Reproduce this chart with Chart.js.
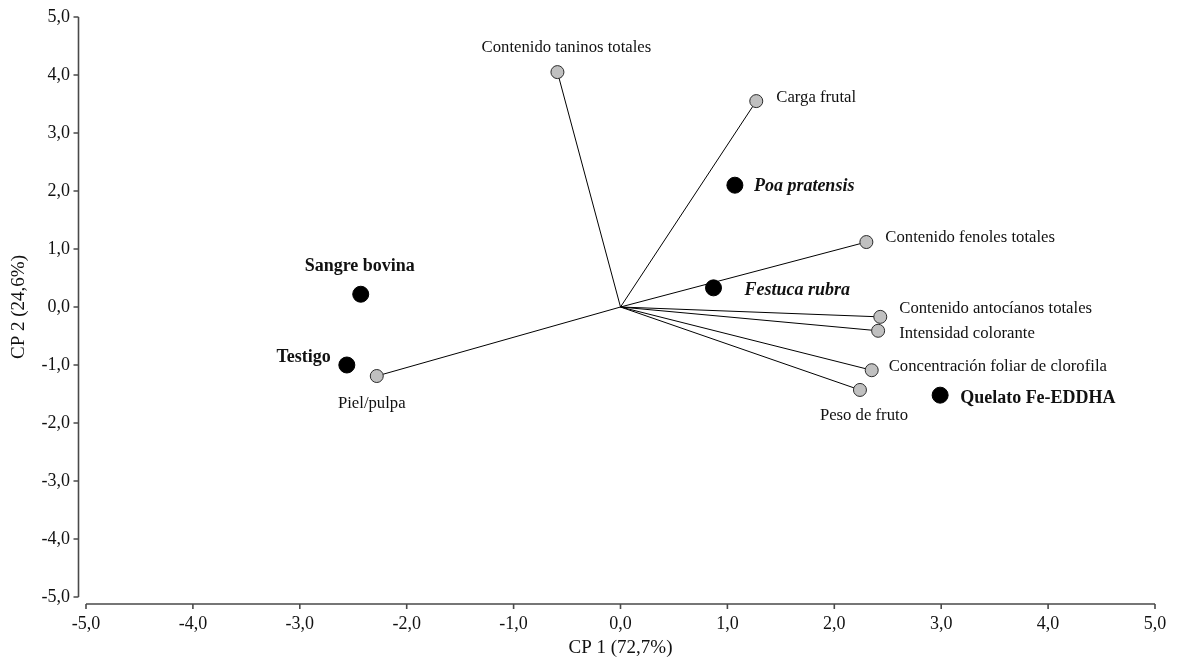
<!DOCTYPE html>
<html>
<head>
<meta charset="utf-8">
<script src="https://cdn.jsdelivr.net/npm/chart.js@4.4.1/dist/chart.umd.min.js"></script>
<style>
  html, body { margin: 0; padding: 0; background: #fff; }
</style>
</head>
<body>
<canvas id="biplot" width="1178" height="658"></canvas>
<script>
// Variables (vectors from the origin)
const varNames = ['Contenido taninos totales', 'Carga frutal', 'Contenido fenoles totales',
  'Contenido antocíanos totales', 'Intensidad colorante', 'Concentración foliar de clorofila',
  'Peso de fruto', 'Piel/pulpa'];
const varCP1 = [-0.59, 1.27, 2.30, 2.43, 2.41, 2.35, 2.24, -2.28];
const varCP2 = [4.05, 3.55, 1.12, -0.17, -0.41, -1.09, -1.43, -1.19];

// Treatments
const trtNames = ['Poa pratensis', 'Festuca rubra', 'Sangre bovina', 'Testigo', 'Quelato Fe-EDDHA'];
const trtCP1 = [1.07, 0.87, -2.43, -2.56, 2.99];
const trtCP2 = [2.10, 0.33, 0.22, -1.00, -1.52];

// Axis ticks
const tickValues = [-5, -4, -3, -2, -1, 0, 1, 2, 3, 4, 5];

// label placement (pixel offsets from the point, text alignment)
const varLabelPos = [
  [9, -24, 'center'], [20, -3, 'left'], [19, -4, 'left'], [19, -8, 'left'],
  [21, 3, 'left'], [17, -4, 'left'], [4, 26, 'center'], [-5, 28, 'center']
];
const trtLabelPos = [
  [19, 1, 'left', true], [31, 2, 'left', true], [-1, -28, 'center', false],
  [-16, -8, 'right', false], [20, 3, 'left', false]
];

const serif = "'Liberation Serif', 'Times New Roman', serif";
Chart.defaults.font.family = serif;

const fmt = v => Number(v).toFixed(1).replace('.', ',');

// keep the plot area fixed: no extra room for overhanging tick labels
function noScalePadding(s) {
  s.paddingTop = 0;
  s.paddingBottom = 0;
  s.paddingLeft = 0;
  s.paddingRight = 0;
}

// draws the detached axes and the point labels
const biplotDecor = {
  id: 'biplotDecor',
  afterDraw(chart) {
    const ctx = chart.ctx;
    const xs = chart.scales.x, ys = chart.scales.y;
    const area = chart.chartArea;
    ctx.save();
    ctx.strokeStyle = '#4a4a4a';
    ctx.lineWidth = 1.6;
    ctx.beginPath();
    const ax = area.left - 7.5;
    ctx.moveTo(ax, ys.getPixelForValue(5));
    ctx.lineTo(ax, ys.getPixelForValue(-5));
    tickValues.forEach(v => {
      const py = ys.getPixelForValue(v);
      ctx.moveTo(ax - 5, py);
      ctx.lineTo(ax, py);
    });
    const ay = area.bottom + 7;
    ctx.moveTo(xs.getPixelForValue(-5), ay);
    ctx.lineTo(xs.getPixelForValue(5), ay);
    tickValues.forEach(v => {
      const px = xs.getPixelForValue(v);
      ctx.moveTo(px, ay);
      ctx.lineTo(px, ay + 5);
    });
    ctx.stroke();

    ctx.fillStyle = '#111';
    ctx.textBaseline = 'middle';
    ctx.font = '16.7px ' + serif;
    varNames.forEach((name, i) => {
      const p = varLabelPos[i];
      ctx.textAlign = p[2];
      ctx.fillText(name, xs.getPixelForValue(varCP1[i]) + p[0], ys.getPixelForValue(varCP2[i]) + p[1]);
    });
    trtNames.forEach((name, i) => {
      const p = trtLabelPos[i];
      ctx.textAlign = p[2];
      ctx.font = (p[3] ? 'italic ' : '') + 'bold 18px ' + serif;
      ctx.fillText(name, xs.getPixelForValue(trtCP1[i]) + p[0], ys.getPixelForValue(trtCP2[i]) + p[1]);
    });
    ctx.restore();
  }
};

const vectorSets = varNames.map((n, i) => ({
  label: n,
  data: [{ x: 0, y: 0 }, { x: varCP1[i], y: varCP2[i] }],
  showLine: true,
  borderColor: '#000',
  borderWidth: 1,
  pointRadius: 0,
  order: 3
}));

const axisTicks = {
  callback: fmt,
  font: { size: 18 },
  color: '#111',
  padding: 16,
  autoSkip: false,
  maxRotation: 0
};

new Chart(document.getElementById('biplot'), {
  type: 'scatter',
  data: {
    datasets: [
      {
        label: 'Variables',
        data: varCP1.map((x, i) => ({ x: x, y: varCP2[i] })),
        pointRadius: 6.5,
        backgroundColor: '#c0c0c0',
        borderColor: '#2a2a2a',
        borderWidth: 1,
        order: 2
      },
      {
        label: 'Tratamientos',
        data: trtCP1.map((x, i) => ({ x: x, y: trtCP2[i] })),
        pointRadius: 8,
        backgroundColor: '#000',
        borderColor: '#000',
        borderWidth: 1,
        order: 1
      },
      ...vectorSets
    ]
  },
  options: {
    responsive: false,
    animation: false,
    layout: { padding: { top: 17, right: 23, left: 0, bottom: 0 } },
    plugins: { legend: { display: false }, tooltip: { enabled: false } },
    scales: {
      x: {
        type: 'linear', min: -5, max: 5,
        afterBuildTicks: s => { s.ticks = tickValues.map(v => ({ value: v })); },
        afterFit: s => { s.height = 61; noScalePadding(s); },
        grid: { display: false, drawTicks: false },
        border: { display: false },
        ticks: axisTicks,
        title: { display: true, text: 'CP 1 (72,7%)', font: { size: 19, lineHeight: 1 }, color: '#111', padding: { top: 0, bottom: 0 } }
      },
      y: {
        type: 'linear', min: -5, max: 5,
        afterBuildTicks: s => { s.ticks = tickValues.map(v => ({ value: v })); },
        afterFit: s => { s.width = 86; noScalePadding(s); },
        grid: { display: false, drawTicks: false },
        border: { display: false },
        ticks: axisTicks,
        title: { display: true, text: 'CP 2 (24,6%)', font: { size: 19, lineHeight: 1 }, color: '#111', padding: { top: 10, bottom: 0 } }
      }
    }
  },
  plugins: [biplotDecor]
});
</script>
</body>
</html>
